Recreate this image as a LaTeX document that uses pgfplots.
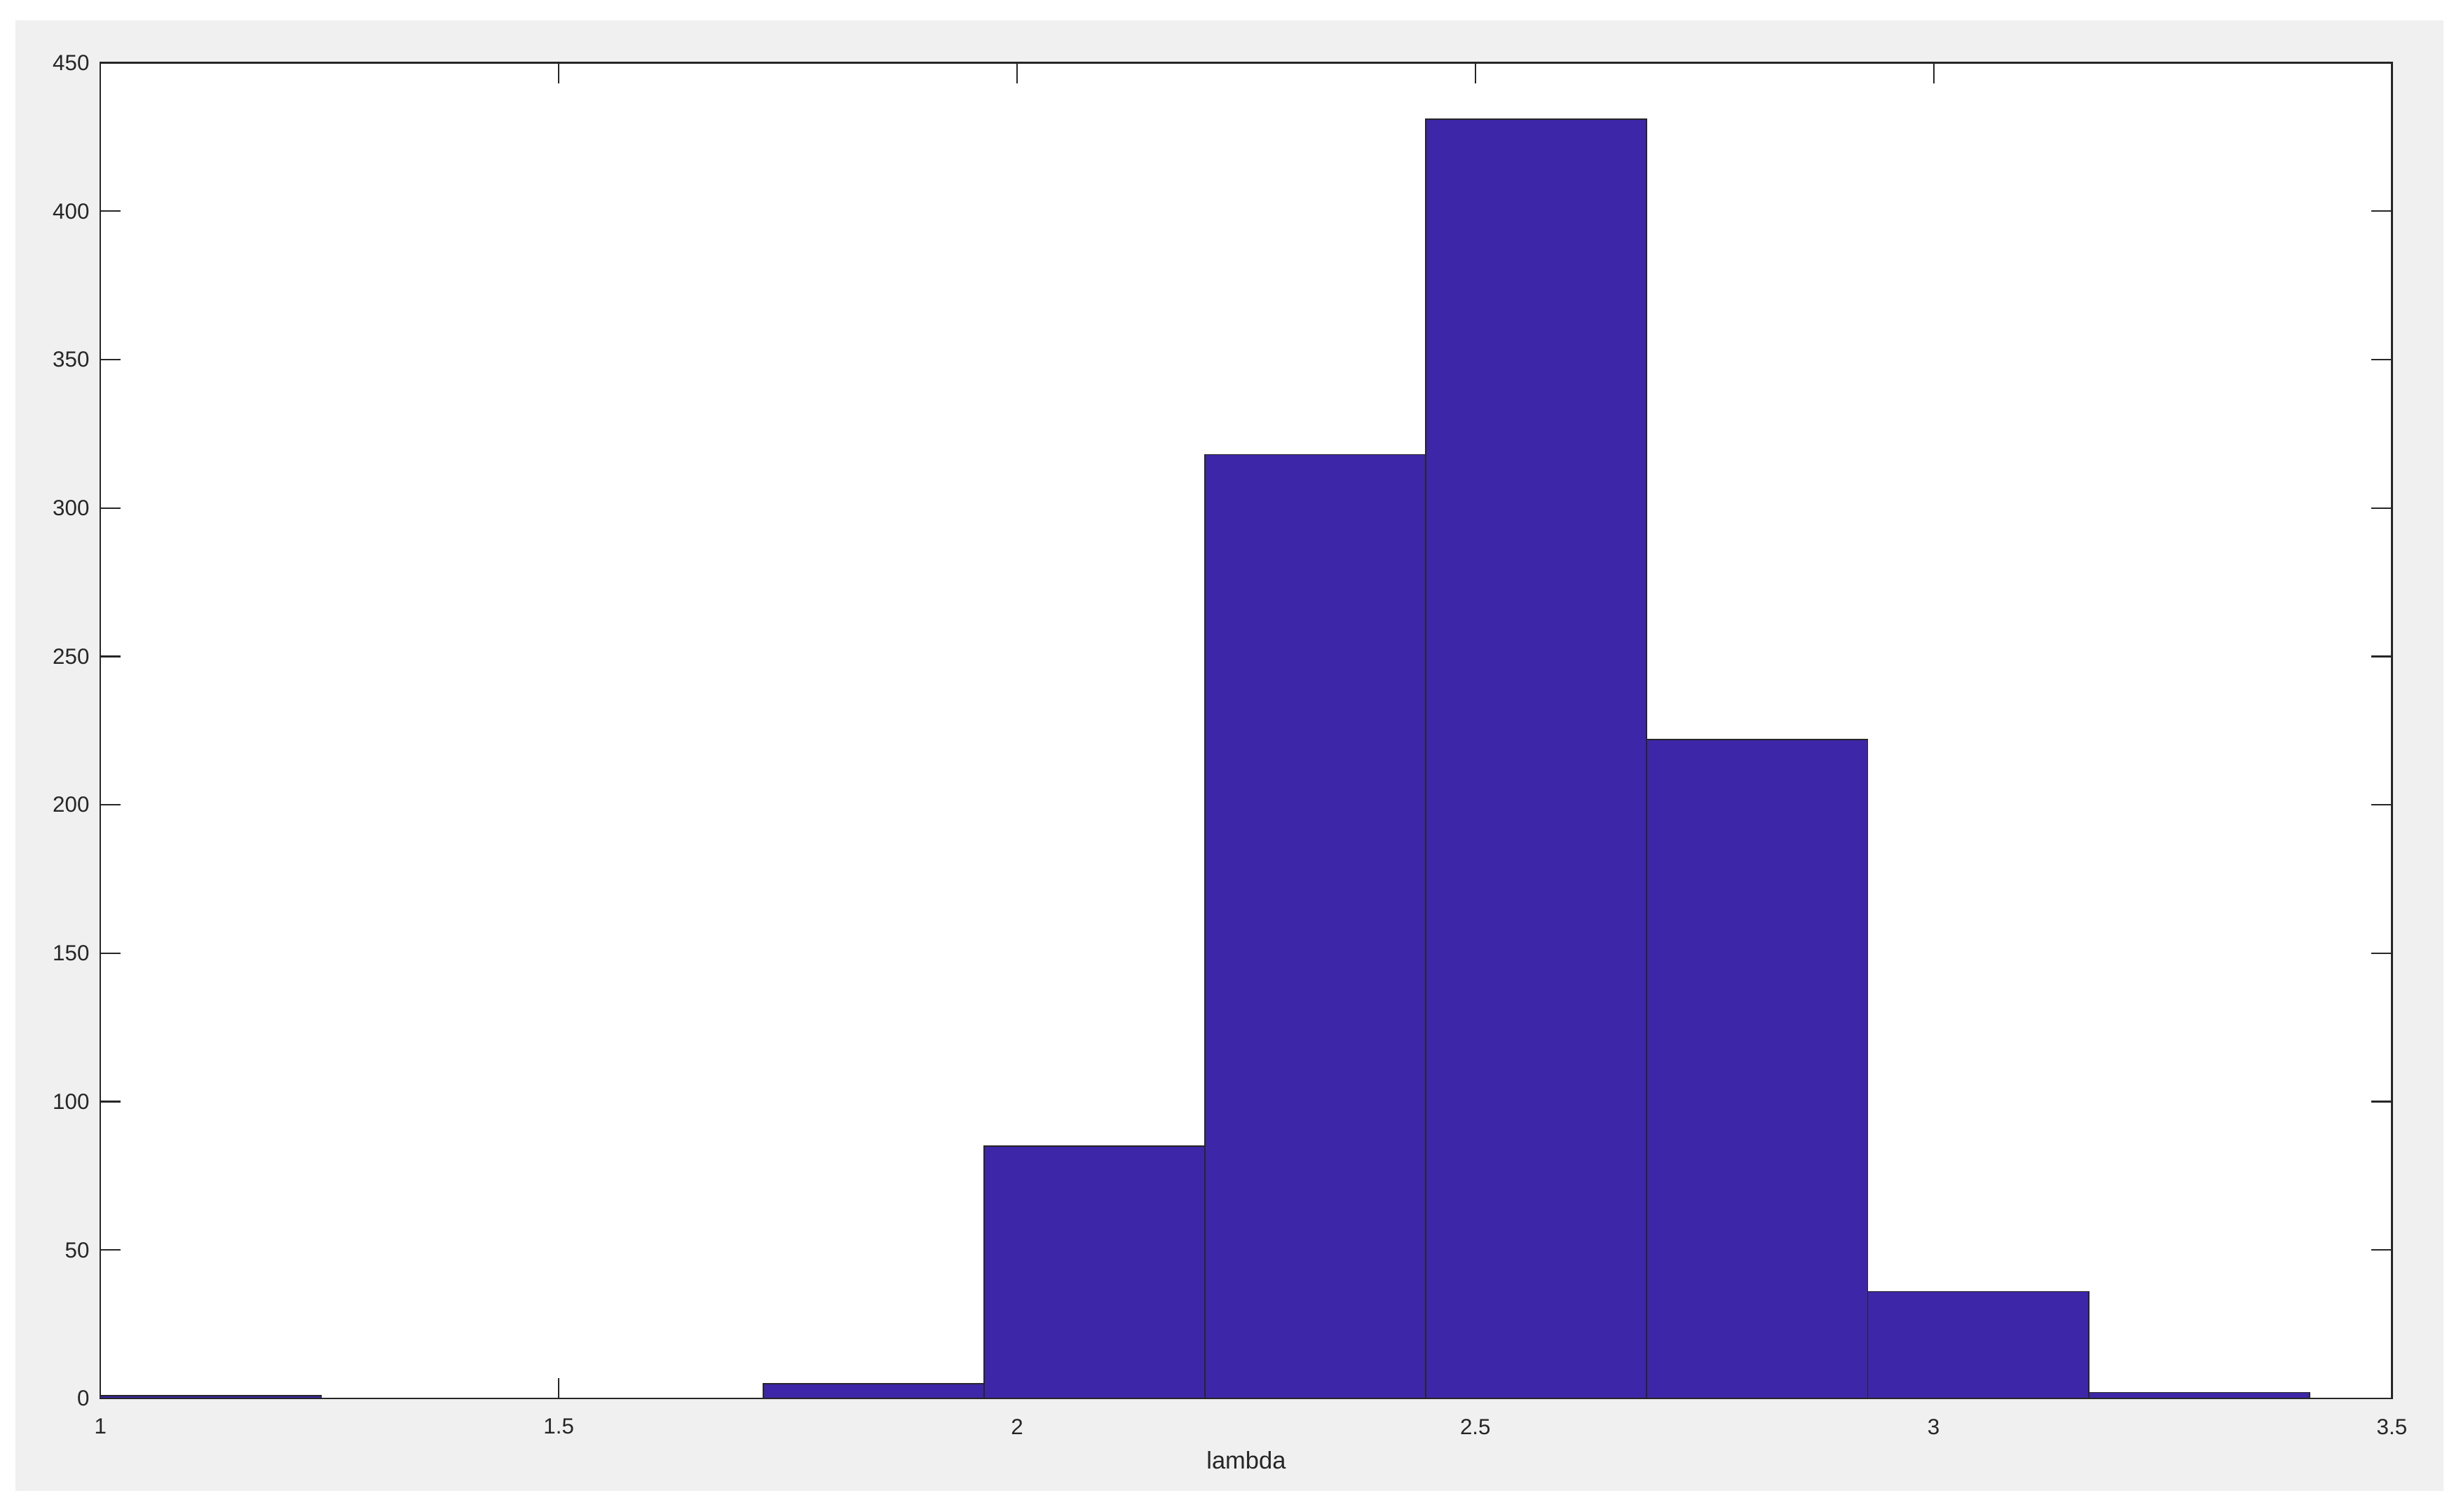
\documentclass[border=0pt]{standalone}
\usepackage{fontspec}
\setmainfont{Liberation Sans}
\usepackage{pgfplots}
\pgfplotsset{compat=1.18}
\usetikzlibrary{backgrounds,calc}
\definecolor{barfill}{RGB}{62,38,168}
\definecolor{axgray}{RGB}{38,38,38}
\definecolor{figgray}{RGB}{240,240,240}
\begin{document}
\begin{tikzpicture}
\begin{axis}[
  scale only axis,
  width=730pt, height=425.5pt,
  xmin=1, xmax=3.5, ymin=0, ymax=450,
  xtick={1,1.5,...,3.5}, ytick={0,50,...,450},
  tick align=inside,
  major tick length=6.5pt,
  axis line style={axgray, line width=0.5pt},
  tick style={axgray, line width=0.5pt},
  ticklabel style={font=\fontsize{7}{8}\selectfont, text=axgray, /pgf/number format/assume math mode=true},
  x tick label style={/pgf/number format/fixed, yshift=-3pt},
  scaled ticks=false,
  xlabel={lambda},
  xlabel style={font=\fontsize{7.7}{9}\selectfont, text=axgray, yshift=1.5pt},
  axis background/.style={fill=white},
]
\addplot[ybar interval, fill=barfill, draw=axgray, line width=0.4pt] coordinates {
 (1,1) (1.241,0) (1.482,0) (1.723,5) (1.964,85) (2.205,318) (2.446,431) (2.687,222) (2.928,36) (3.169,2) (3.41,2)
};
\end{axis}
\begin{scope}[on background layer]
\fill[white] ($(current axis.south west)+(-32pt,-36pt)$) rectangle ($(current axis.north east)+(22pt,20pt)$);
\fill[figgray] ($(current axis.south west)+(-27pt,-29.5pt)$) rectangle ($(current axis.north east)+(16.5pt,13.5pt)$);
\end{scope}
\end{tikzpicture}
\end{document}
